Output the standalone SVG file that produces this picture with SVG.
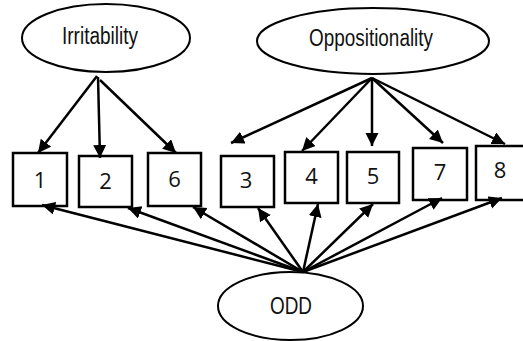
<svg xmlns="http://www.w3.org/2000/svg" width="523" height="341" viewBox="0 0 523 341">
<defs>
<marker id="ah" markerWidth="14" markerHeight="14" refX="13" refY="6.5" orient="auto" markerUnits="userSpaceOnUse">
<path d="M0,0 L13,6.5 L0,13 Z" fill="#000"/>
</marker>
<style>
.el{fill:#fff;stroke:#000;stroke-width:2}
.bx{fill:#fff;stroke:#000;stroke-width:2.5}
.lt{font-family:"Liberation Sans",Arial,sans-serif;font-size:23px;fill:#111;text-anchor:middle}
.nt{font-family:"Open Sans","Noto Sans",sans-serif;font-size:22px;fill:#111;text-anchor:middle}
.cn line{stroke:#000;stroke-width:2.5;marker-end:url(#ah)}
</style>
</defs>
<rect width="523" height="341" fill="#fff"/>
<g id="irritability"><ellipse class="el" cx="106" cy="38" rx="84" ry="34"/><text class="lt" x="100" y="44" textLength="76" lengthAdjust="spacingAndGlyphs">Irritability</text></g>
<g id="oppositionality"><ellipse class="el" cx="373" cy="41" rx="116" ry="33"/><text class="lt" x="371" y="46" textLength="124" lengthAdjust="spacingAndGlyphs">Oppositionality</text></g>
<g id="odd"><ellipse class="el" cx="290.5" cy="306" rx="72.5" ry="34"/><text class="lt" x="291" y="314" textLength="42" lengthAdjust="spacingAndGlyphs">ODD</text></g>
<g id="n1"><rect class="bx" x="13" y="153" width="54" height="53"/><text class="nt" x="40" y="188">1</text></g>
<g id="n2"><rect class="bx" x="79" y="156" width="53" height="51"/><text class="nt" x="105.5" y="189">2</text></g>
<g id="n6"><rect class="bx" x="148" y="153" width="53" height="53"/><text class="nt" x="174.5" y="187">6</text></g>
<g id="n3"><rect class="bx" x="221" y="156" width="53" height="51"/><text class="nt" x="246" y="188">3</text></g>
<g id="n4"><rect class="bx" x="285" y="152" width="53" height="51"/><text class="nt" x="311.5" y="184">4</text></g>
<g id="n5"><rect class="bx" x="347" y="152" width="52" height="51"/><text class="nt" x="373" y="184">5</text></g>
<g id="n7"><rect class="bx" x="413" y="148" width="54" height="52"/><text class="nt" x="440" y="180">7</text></g>
<g id="n8"><rect class="bx" x="476" y="146" width="54" height="54"/><text class="nt" x="500" y="178">8</text></g>
<g id="connectors" class="cn">
<line x1="97" y1="76" x2="38" y2="153"/>
<line x1="98" y1="77" x2="100" y2="158"/>
<line x1="100" y1="80" x2="176" y2="153"/>
<line x1="372" y1="78" x2="231" y2="143"/>
<line x1="372" y1="78" x2="302" y2="151"/>
<line x1="372" y1="78" x2="372" y2="146"/>
<line x1="372" y1="78" x2="443" y2="143"/>
<line x1="372" y1="78" x2="505" y2="144"/>
<line x1="303" y1="272" x2="42" y2="205"/>
<line x1="303" y1="272" x2="128" y2="208"/>
<line x1="303" y1="272" x2="193" y2="207"/>
<line x1="303" y1="272" x2="258" y2="208"/>
<line x1="303" y1="272" x2="318" y2="204"/>
<line x1="303" y1="272" x2="373" y2="204"/>
<line x1="303" y1="272" x2="442" y2="198"/>
<line x1="303" y1="272" x2="502" y2="198"/>
</g>
</svg>
